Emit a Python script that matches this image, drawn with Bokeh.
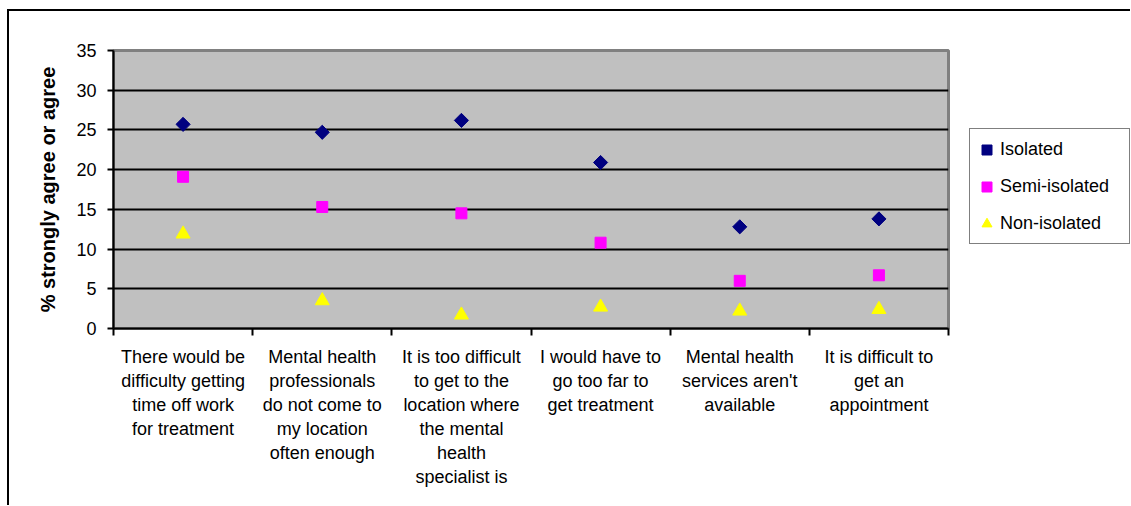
import math
from bokeh.plotting import figure
from bokeh.layouts import row
from bokeh.models import (Range1d, FixedTicker, Legend, LegendItem)
from bokeh.embed import file_html
from bokeh.resources import INLINE

categories = [
    "There would be\ndifficulty getting\ntime off work\nfor treatment",
    "Mental health\nprofessionals\ndo not come to\nmy location\noften enough",
    "It is too difficult\nto get to the\nlocation where\nthe mental\nhealth\nspecialist is",
    "I would have to\ngo too far to\nget treatment",
    "Mental health\nservices aren't\navailable",
    "It is difficult to\nget an\nappointment",
]
series_names = ["Isolated", "Semi-isolated", "Non-isolated"]
isolated = [25.7, 24.7, 26.2, 20.9, 12.8, 13.8]
semi_isolated = [19.1, 15.3, 14.5, 10.8, 6.0, 6.7]
non_isolated = [11.9, 3.5, 1.7, 2.7, 2.2, 2.4]
y_ticks = [0, 5, 10, 15, 20, 25, 30, 35]

FONT = "Liberation Sans"
H = 494

n = len(categories)
xc = [i + 0.5 for i in range(n)]

p = figure(width=942, height=H, output_backend="svg", toolbar_location=None,
           x_range=Range1d(0, n), y_range=Range1d(0, 35),
           min_border_left=104, min_border_top=39, min_border_right=3,
           min_border_bottom=177)

p.background_fill_color = "#C0C0C0"
p.border_fill_color = "white"
p.outline_line_color = "#808080"
p.outline_line_width = 3

# y axis
p.yaxis.ticker = FixedTicker(ticks=y_ticks)
p.yaxis.axis_label = "% strongly agree or agree"
p.yaxis.axis_label_text_font = FONT
p.yaxis.axis_label_text_font_style = "bold"
p.yaxis.axis_label_text_font_size = "20px"
p.yaxis.axis_label_text_color = "black"
p.yaxis.axis_label_standoff = 14
p.yaxis.major_label_text_font = FONT
p.yaxis.major_label_text_font_size = "18px"
p.yaxis.major_label_text_color = "black"
p.yaxis.major_tick_out = 6
p.yaxis.major_tick_in = 0
p.yaxis.minor_tick_line_color = None
p.yaxis.major_label_standoff = 11
p.yaxis.axis_line_width = 2
p.yaxis.axis_line_color = "black"
p.yaxis.major_tick_line_width = 2
p.yaxis.major_tick_line_color = "black"

# x axis
p.xaxis.ticker = FixedTicker(ticks=xc, minor_ticks=list(range(n + 1)))
p.xaxis.major_label_overrides = {x: c for x, c in zip(xc, categories)}
p.xaxis.major_tick_line_color = None
p.xaxis.major_tick_out = 0
p.xaxis.major_tick_in = 0
p.xaxis.minor_tick_out = 7
p.xaxis.minor_tick_in = 0
p.xaxis.minor_tick_line_width = 2
p.xaxis.minor_tick_line_color = "black"
p.xaxis.axis_line_width = 2
p.xaxis.axis_line_color = "black"
p.xaxis.major_label_text_font = FONT
p.xaxis.major_label_text_font_size = "18px"
p.xaxis.major_label_text_color = "black"
p.xaxis.major_label_text_line_height = 1.2
p.xaxis.major_label_standoff = 11

p.xgrid.grid_line_color = None
p.ygrid.ticker = FixedTicker(ticks=y_ticks[1:-1])
p.ygrid.grid_line_color = "black"
p.ygrid.grid_line_width = 2

styles = [
    dict(marker="square", size=10, angle=math.pi / 4, fill_color="#000080", line_color="#000080"),
    dict(marker="square", size=11, angle=0, fill_color="#FF00FF", line_color="#FF00FF"),
    dict(marker="triangle", size=14, angle=0, fill_color="#FFFF00", line_color="#FFFF00"),
]
series_values = [isolated, semi_isolated, non_isolated]
for vals, st in zip(series_values, styles):
    p.scatter(xc, vals, **st)

# legend panel: a small figure to the right whose view range excludes the data,
# so only its legend is visible
q = figure(width=179, height=H, output_backend="svg", toolbar_location=None,
           x_range=Range1d(-2, -1), y_range=Range1d(-2, -1),
           x_axis_location=None, y_axis_location=None,
           min_border_left=0, min_border_right=0, min_border_top=0, min_border_bottom=0)
q.grid.visible = False
q.outline_line_color = None
q.background_fill_color = "white"
q.border_fill_color = "white"

items = []
for name, vals, st in zip(series_names, series_values, styles):
    r = q.scatter(xc, vals, **st)
    items.append(LegendItem(label=name, renderers=[r]))

legend = Legend(items=items, location=(18, 84))
legend.label_text_font = FONT
legend.label_text_font_size = "18px"
legend.label_text_color = "black"
legend.border_line_color = "black"
legend.border_line_width = 1
legend.background_fill_color = "white"
legend.background_fill_alpha = 1
legend.padding = 4
legend.spacing = 5
legend.label_height = 32
legend.glyph_height = 25
legend.glyph_width = 25
legend.label_standoff = 1
legend.label_width = 125
legend.margin = 0
q.add_layout(legend, "center")

layout = row(p, q)
layout.styles = {"border-left": "2px solid black", "border-top": "2px solid black",
                 "margin-left": "7px", "margin-top": "9px"}

open("out.html", "w").write(file_html(layout, INLINE))
